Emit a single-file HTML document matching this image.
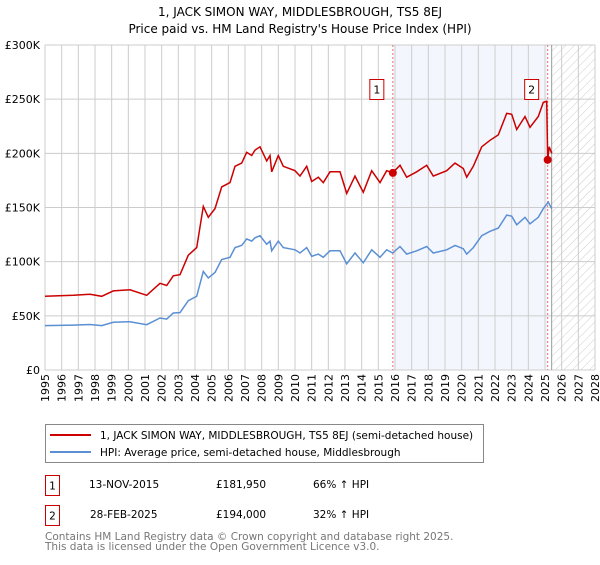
<!DOCTYPE html>
<html><head><meta charset="utf-8"><style>
body{margin:0;background:#fff;width:600px;height:560px;overflow:hidden}
svg{font-family:"DejaVu Sans","Liberation Sans",sans-serif}
</style></head><body>
<svg id="c" width="600" height="560" xmlns="http://www.w3.org/2000/svg">
<defs><pattern id="hatch" width="6" height="6" patternUnits="userSpaceOnUse" patternTransform="rotate(45)"><line x1="0" y1="0" x2="0" y2="6" stroke="#ccc" stroke-width="1"/></pattern></defs>
<text x="300" y="16" text-anchor="middle" font-size="12">1, JACK SIMON WAY, MIDDLESBROUGH, TS5 8EJ</text>
<text x="300" y="33" text-anchor="middle" font-size="12">Price paid vs. HM Land Registry's House Price Index (HPI)</text>
<g id="plot"></g>
<g>
<rect x="45.5" y="424.5" width="438" height="38" fill="#fff" stroke="#888"/>
<line x1="50" y1="435" x2="91" y2="435" stroke="#cc0000" stroke-width="2"/>
<text x="100" y="439" font-size="10.5">1, JACK SIMON WAY, MIDDLESBROUGH, TS5 8EJ (semi-detached house)</text>
<line x1="50" y1="452" x2="91" y2="452" stroke="#5b8fd4" stroke-width="2"/>
<text x="100" y="456" font-size="10.5">HPI: Average price, semi-detached house, Middlesbrough</text>
</g>
<g font-size="10.5">
<rect x="45.5" y="475.5" width="14" height="20" fill="#fff" stroke="#cc0000"/>
<text x="52.5" y="489.5" text-anchor="middle">1</text>
<text x="89" y="488">13-NOV-2015</text><text x="216" y="488">£181,950</text><text x="313" y="488">66% ↑ HPI</text>
<rect x="45.5" y="505.5" width="14" height="20" fill="#fff" stroke="#cc0000"/>
<text x="52.5" y="519.5" text-anchor="middle">2</text>
<text x="90" y="518">28-FEB-2025</text><text x="216" y="518">£194,000</text><text x="313" y="518">32% ↑ HPI</text>
</g>
<g font-size="10.5" fill="#777">
<text x="45" y="540">Contains HM Land Registry data © Crown copyright and database right 2025.</text>
<text x="45" y="550">This data is licensed under the Open Government Licence v3.0.</text>
</g>
</svg>
<script>
const hpiYears=[1995,1996.7,1997.7,1998.4,1999.1,2000.1,2001.1,2001.9,2002.3,2002.7,2003.1,2003.6,2004.1,2004.5,2004.8,2005.2,2005.6,2006.1,2006.4,2006.8,2007.1,2007.4,2007.6,2007.9,2008.3,2008.5,2008.6,2009,2009.3,2010.0,2010.3,2010.7,2011.0,2011.4,2011.7,2012.1,2012.7,2013.1,2013.6,2014.1,2014.6,2015.1,2015.5,2015.86,2016.3,2016.7,2017.3,2017.9,2018.3,2019.1,2019.6,2020.1,2020.3,2020.7,2021.2,2021.7,2022.2,2022.7,2023.0,2023.3,2023.8,2024.1,2024.6,2024.9,2025.2,2025.4];
const hpiValues=[41,41.4,42,41,44,44.6,41.8,48,47,52.6,53,64,68,91,85,90,102,104,113,115,121,119,122,124,116,119,110,119,113,111,108,113,105,107,104,110,110,98,108,99,111,104,111,108,114,107,110,114,108,111,115,112,107,113,124,128,131,143,142,134,141,135,141,149,155,149];
const propYears=[1995,1996.7,1997.7,1998.4,1999.1,2000.1,2001.1,2001.9,2002.3,2002.7,2003.1,2003.6,2004.1,2004.5,2004.8,2005.2,2005.6,2006.1,2006.4,2006.8,2007.1,2007.4,2007.6,2007.9,2008.3,2008.5,2008.6,2009,2009.3,2010.0,2010.3,2010.7,2011.0,2011.4,2011.7,2012.1,2012.7,2013.1,2013.6,2014.1,2014.6,2015.1,2015.5,2015.86,2016.3,2016.7,2017.3,2017.9,2018.3,2019.1,2019.6,2020.1,2020.3,2020.7,2021.2,2021.7,2022.2,2022.7,2023.0,2023.3,2023.8,2024.1,2024.6,2024.9,2025.1,2025.16,2025.25,2025.4];
const propValues=[68,69,70,68,73,74,69,80,78,87,88,106,113,151,141,149,169,173,188,191,201,198,203,206,193,198,183,198,188,184,179,188,174,178,173,183,183,163,179,164,184,173,184,182,189,178,183,189,179,184,191,186,178,188,206,212,217,237,236,222,234,224,234,247,248,194,206,200];
const saleYears=[2015.87,2025.16];
const saleValues=[181.95,194];
const saleLabels=["1","2"];
const yTicks=[0,50,100,150,200,250,300];
const yTickLabels=["£0","£50K","£100K","£150K","£200K","£250K","£300K"];
const xTicks=[];for(let y=1995;y<=2028;y++)xTicks.push(y);

const X0=45,X1=595,Y0=370,Y1=45,yMin=1995,yMax=2028;
const xs=v=>X0+(v-yMin)/(yMax-yMin)*(X1-X0);
const ys=v=>Y0-v/300*(Y0-Y1);
const NS="http://www.w3.org/2000/svg";
const g=document.getElementById('plot');
function mk(t,a,p){const e=document.createElementNS(NS,t);for(const k in a)e.setAttribute(k,a[k]);(p||g).appendChild(e);return e;}
let e;
e=mk('rect',{x:xs(saleYears[0]),y:Y1,width:xs(saleYears[1])-xs(saleYears[0]),height:Y0-Y1,fill:'#eef3fc',opacity:0.7});


const hx=xs(2025.4);
e=mk('rect',{x:hx,y:Y1,width:X1-hx,height:Y0-Y1,fill:'url(#hatch)'});


xTicks.forEach(t=>{
 e=mk('line',{x1:xs(t),x2:xs(t),y1:Y1,y2:Y0,stroke:'#ccc'});
 
 
 const s=String(t);
 const xx=[],yy=[];
 for(let k=0;k<s.length;k++){xx.push((xs(t)+4).toFixed(1));yy.push((402-k*7).toFixed(1));}
 e=mk('text',{x:xx.join(' '),y:yy.join(' '),rotate:'-90 -90 -90 -90','font-size':11});
 e.textContent=s;
 
 
});
yTicks.forEach((t,i)=>{
 e=mk('line',{x1:X0,x2:X1,y1:ys(t),y2:ys(t),stroke:'#ccc'});
 
 
 e=mk('text',{x:40,y:ys(t)+4,'font-size':11,'text-anchor':'end'});
 e.textContent=yTickLabels[i];
 
 
});
e=mk('line',{x1:hx,x2:hx,y1:Y1,y2:Y0,stroke:'#999'});


saleYears.forEach((s,i)=>{
 e=mk('line',{x1:xs(s),x2:xs(s),y1:Y1,y2:Y0,stroke:'#f07070','stroke-dasharray':'2,2'});
 
 
});
const pts=(xa,va)=>xa.map((x,i)=>xs(x).toFixed(1)+','+ys(va[i]).toFixed(1)).join(' ');
e=mk('polyline',{points:pts(hpiYears,hpiValues),fill:'none',stroke:'#5b8fd4','stroke-width':1.5});


e=mk('polyline',{points:pts(propYears,propValues),fill:'none',stroke:'#cc0000','stroke-width':1.5});


saleYears.forEach((s,i)=>{
 e=mk('circle',{cx:xs(s),cy:ys(saleValues[i]),r:4,fill:'#cc0000'});
 
 
 const bx=xs(s)-16;
 e=mk('rect',{x:bx-7,y:79.5,width:14,height:20,fill:'#fff',stroke:'#cc0000'});
 
 
 e=mk('text',{x:bx,y:93.5,'font-size':11,'text-anchor':'middle'});
 e.textContent=saleLabels[i];
 
 
});
</script>
</body></html>
